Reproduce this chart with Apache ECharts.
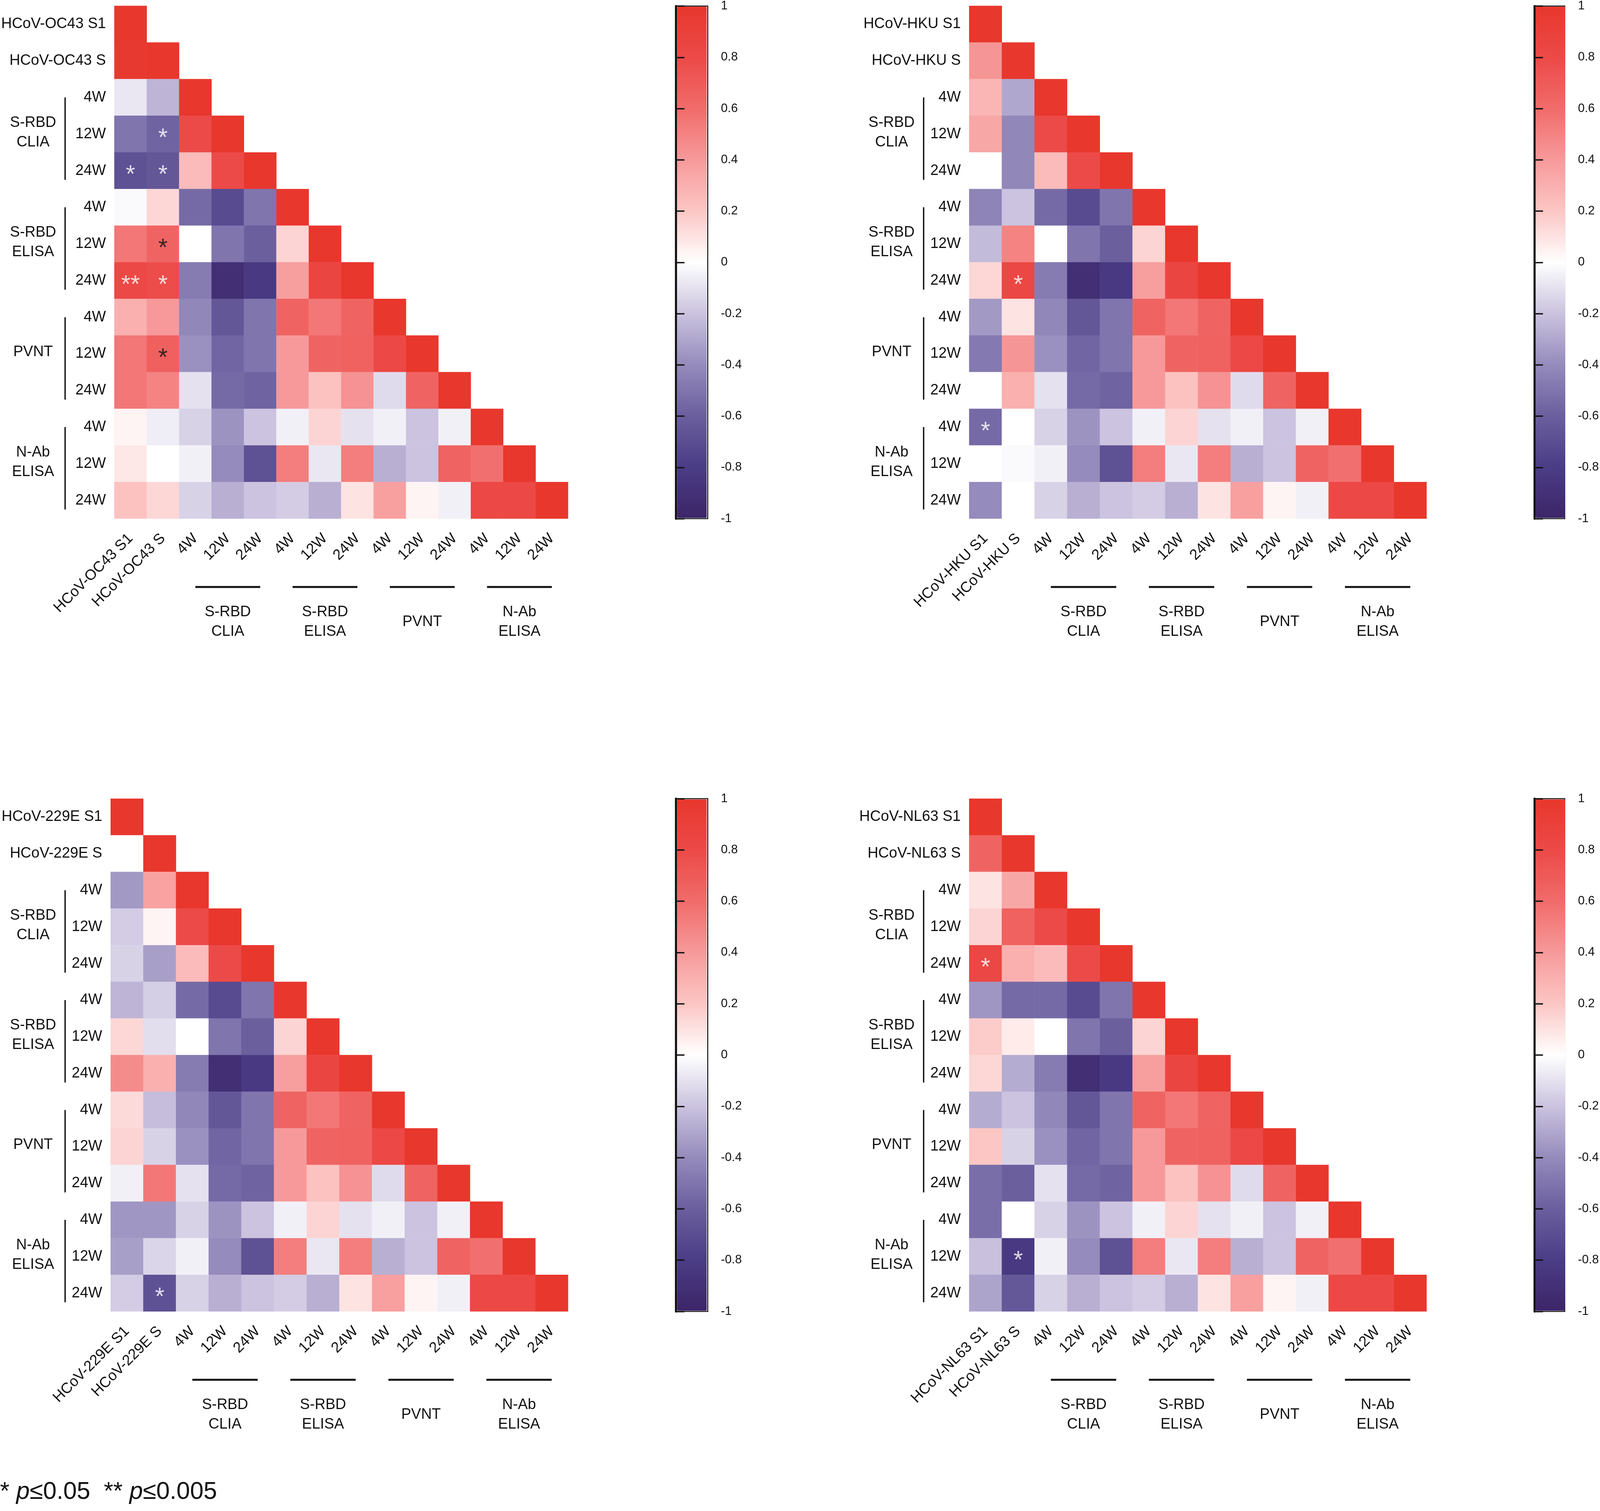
<!DOCTYPE html>
<html>
<head>
<meta charset="utf-8">
<script src="https://cdn.jsdelivr.net/npm/echarts@6/dist/echarts.min.js"></script>
<style>
  html, body { margin: 0; padding: 0; background: #fff; overflow: hidden; }
  #main { width: 100vw; height: 100vh; }
</style>
</head>
<body>
<div id="main"></div>
<script>
// ---- data ----
const panelNames = ['HCoV-OC43', 'HCoV-HKU', 'HCoV-229E', 'HCoV-NL63'];
const groupNames = ['S-RBD\nCLIA', 'S-RBD\nELISA', 'PVNT', 'N-Ab\nELISA'];
const timeLabels = ['4W', '12W', '24W'];
const colorbarTicks = [-1, 1, 0.2];

// correlation among the 12 SARS-CoV-2 measures (same in every panel), lower triangle
const innerRows = [
  [1],
  [0.8, 1],
  [0.25, 0.8, 1],
  [-0.55, -0.72, -0.5, 1],
  [0.0, -0.5, -0.6, 0.15, 1],
  [-0.47, -0.92, -0.83, 0.38, 0.85, 1],
  [-0.42, -0.65, -0.5, 0.65, 0.55, 0.65, 1],
  [-0.38, -0.57, -0.5, 0.4, 0.65, 0.66, 0.82, 1],
  [-0.1, -0.55, -0.58, 0.4, 0.22, 0.43, -0.12, 0.65, 1],
  [-0.15, -0.37, -0.2, -0.05, 0.15, -0.1, -0.05, -0.2, -0.05, 1],
  [-0.05, -0.4, -0.68, 0.52, -0.08, 0.52, -0.27, -0.2, 0.65, 0.58, 1],
  [-0.15, -0.27, -0.2, -0.17, -0.27, 0.1, 0.37, 0.04, -0.05, 0.82, 0.82, 1]
];

// S1 column: rows S, CLIA 4/12/24W, ELISA 4/12/24W, PVNT 4/12/24W, N-Ab 4/12/24W
const oc43S1 = [0.98, -0.08, -0.5, -0.68, -0.02, 0.55, 0.82, 0.3, 0.55, 0.55, 0.04, 0.08, 0.22];
const hkuS1 = [0.42, 0.27, 0.34, 0.0, -0.43, -0.23, 0.14, -0.35, -0.48, 0.0, -0.55, 0.0, -0.4];
const e229S1 = [0.0, -0.35, -0.17, -0.15, -0.25, 0.14, 0.46, 0.13, 0.15, -0.05, -0.36, -0.33, -0.17];
const nl63S1 = [0.65, 0.1, 0.15, 0.83, -0.36, 0.18, 0.14, -0.28, 0.2, -0.53, -0.53, -0.21, -0.31];

// S column: rows CLIA 4/12/24W ... N-Ab 24W
const oc43S = [-0.25, -0.58, -0.65, 0.14, 0.65, 0.78, 0.4, 0.67, 0.5, -0.06, 0.0, 0.14];
const hkuS = [-0.3, -0.42, -0.42, -0.2, 0.5, 0.83, 0.1, 0.42, 0.3, 0.0, -0.02, 0.0];
const e229S = [0.36, 0.04, -0.33, -0.16, -0.11, 0.3, -0.22, -0.15, 0.55, -0.36, -0.14, -0.68];
const nl63S = [0.34, 0.66, 0.3, -0.55, 0.07, -0.28, -0.2, -0.15, -0.6, 0.0, -0.83, -0.64];

// significance marks: [col, row, mark, colour]
const oc43Marks = [[1, 3, '*', '#fff'], [0, 4, '*', '#fff'], [1, 4, '*', '#fff'], [1, 6, '*', '#111'],
                   [0, 7, '**', '#fff'], [1, 7, '*', '#fff'], [1, 9, '*', '#111']];
const hkuMarks = [[1, 7, '*', '#fff'], [0, 11, '*', '#fff']];
const e229Marks = [[1, 13, '*', '#fff']];
const nl63Marks = [[0, 4, '*', '#fff'], [1, 12, '*', '#fff']];

const s1Cols = [oc43S1, hkuS1, e229S1, nl63S1];
const sCols = [oc43S, hkuS, e229S, nl63S];
const marks = [oc43Marks, hkuMarks, e229Marks, nl63Marks];

// ---- layout (designed on a 4743 x 3869 page, scaled to the real viewport) ----
const chart = echarts.init(document.getElementById('main'));
const SX = chart.getWidth() / 4743, SY = chart.getHeight() / 3869;
const px = v => v * SX;
const py = v => v * SY;
const FONT = 'Liberation Sans';
const panelLeft = [328, 2873, 328, 2873];
const panelTop = [15, 15, 2045, 2045];
const heatW = 1356, heatH = 1313;
const cbDx = 1676, cbW = 94;
const colorStops = ['#3c2568', '#4b3d86', '#6b5f9e', '#958bbc', '#cbc3df', '#ffffff',
                    '#fbc6c4', '#f7999a', '#f06c6a', '#ec4a48', '#e8372d'];

function cellValue(p, r, c) {
  if (r === c) return 1;
  if (c === 0) return s1Cols[p][r - 1];
  if (c === 1) return sCols[p][r - 2];
  return innerRows[r - 2][c - 2];
}

const grids = [], xAxes = [], yAxes = [], series = [], visualMaps = [];

panelNames.forEach((name, p) => {
  const labels = [name + ' S1', name + ' S'];
  groupNames.forEach(() => timeLabels.forEach(t => labels.push(t)));

  grids.push({ left: px(panelLeft[p]), top: py(panelTop[p]), width: px(heatW), height: py(heatH) });
  xAxes.push({
    gridIndex: p, type: 'category', data: labels,
    axisLine: { show: false }, axisTick: { show: false }, splitLine: { show: false },
    axisLabel: { interval: 0, rotate: 45, margin: py(45), fontSize: px(44), color: '#111', fontFamily: FONT }
  });
  yAxes.push({
    gridIndex: p, type: 'category', data: labels, inverse: true,
    axisLine: { show: false }, axisTick: { show: false }, splitLine: { show: false },
    axisLabel: { interval: 0, margin: px(25), fontSize: px(44), color: '#111', fontFamily: FONT }
  });

  const cells = [];
  for (let r = 0; r < 14; r++) {
    for (let c = 0; c <= r; c++) cells.push([c, r, cellValue(p, r, c)]);
  }
  series.push({
    type: 'heatmap', xAxisIndex: p, yAxisIndex: p, data: cells,
    itemStyle: { borderWidth: 0 }, emphasis: { disabled: true }, silent: true
  });
});

panelNames.forEach((name, p) => {
  series.push({
    type: 'scatter', xAxisIndex: p, yAxisIndex: p, symbolSize: 1, silent: true, z: 5,
    itemStyle: { color: 'rgba(0,0,0,0)' },
    label: { show: true, position: 'inside', fontSize: px(72), fontFamily: FONT, offset: [0, py(12)] },
    data: marks[p].map(m => ({ value: [m[0], m[1]], label: { formatter: m[2], color: m[3] } }))
  });
});

// colour bars
panelNames.forEach((name, p) => {
  const gi = 4 + p;
  const left = px(panelLeft[p] + cbDx), top = py(panelTop[p]);
  grids.push({ left: left, top: top, width: px(cbW), height: py(heatH), show: true, borderColor: '#111', borderWidth: px(3) });
  xAxes.push({ gridIndex: gi, type: 'value', show: false });
  yAxes.push({
    gridIndex: gi, type: 'value', position: 'right', z: 10,
    min: colorbarTicks[0], max: colorbarTicks[1], interval: colorbarTicks[2],
    axisLine: { show: true, lineStyle: { color: '#111', width: px(6) } },
    axisTick: { show: true, length: px(25), lineStyle: { color: '#111', width: px(4) } },
    axisLabel: { margin: px(39), fontSize: px(36), color: '#111', fontFamily: FONT },
    splitLine: { show: false }
  });
  yAxes.push({
    gridIndex: gi, type: 'value', position: 'left', z: 10,
    min: colorbarTicks[0], max: colorbarTicks[1], interval: colorbarTicks[2],
    axisLine: { show: true, lineStyle: { color: '#111', width: px(6) } },
    axisTick: { show: false }, axisLabel: { show: false }, splitLine: { show: false }
  });
  visualMaps.push({
    type: 'continuous', seriesIndex: p, min: -1, max: 1,
    left: left + px(3), top: top + py(2), itemWidth: px(cbW - 6), itemHeight: py(heatH - 4),
    padding: 0, calculable: false, realtime: false, hoverLink: false,
    inRange: { color: colorStops }
  });
});

chart.setOption({
  animation: false,
  backgroundColor: '#fff',
  title: {
    left: 0, top: py(3790), padding: 0,
    text: '{n|* }{i|p}{n|≤0.05  ** }{i|p}{n|≤0.005}',
    textStyle: {
      rich: {
        n: { fontSize: px(72), fontFamily: FONT, fontWeight: 'normal', color: '#111' },
        i: { fontSize: px(72), fontFamily: FONT, fontWeight: 'normal', fontStyle: 'italic', color: '#111' }
      }
    }
  },
  grid: grids,
  xAxis: xAxes,
  yAxis: yAxes,
  visualMap: visualMaps,
  series: series
});

// group brackets and labels, placed from the axes
const graphics = [];
panelNames.forEach((name, p) => {
  const cellH = py(heatH) / 14;
  const bottom = py(panelTop[p] + heatH);
  groupNames.forEach((g, k) => {
    const first = 2 + 3 * k, last = first + 2;
    const a = chart.convertToPixel({ gridIndex: p }, [first, first]);
    const b = chart.convertToPixel({ gridIndex: p }, [last, last]);
    const bx = px(panelLeft[p] - 135);
    graphics.push({ type: 'line', shape: { x1: bx, y1: a[1], x2: bx, y2: b[1] + 0.25 * cellH },
      style: { stroke: '#111', lineWidth: px(4) } });
    graphics.push({ type: 'text', x: px(panelLeft[p] - 230), y: (a[1] + b[1]) / 2 - py(4),
      style: { text: g, fontSize: px(44), fontFamily: FONT, fill: '#111', align: 'center', verticalAlign: 'middle', lineHeight: py(50) } });
    graphics.push({ type: 'line', shape: { x1: a[0], y1: bottom + py(175), x2: b[0], y2: bottom + py(175) },
      style: { stroke: '#111', lineWidth: py(5) } });
    graphics.push({ type: 'text', x: (a[0] + b[0]) / 2, y: bottom + py(265),
      style: { text: g, fontSize: px(44), fontFamily: FONT, fill: '#111', align: 'center', verticalAlign: 'middle', lineHeight: py(50) } });
  });
});
chart.setOption({ graphic: graphics });
</script>
</body>
</html>
